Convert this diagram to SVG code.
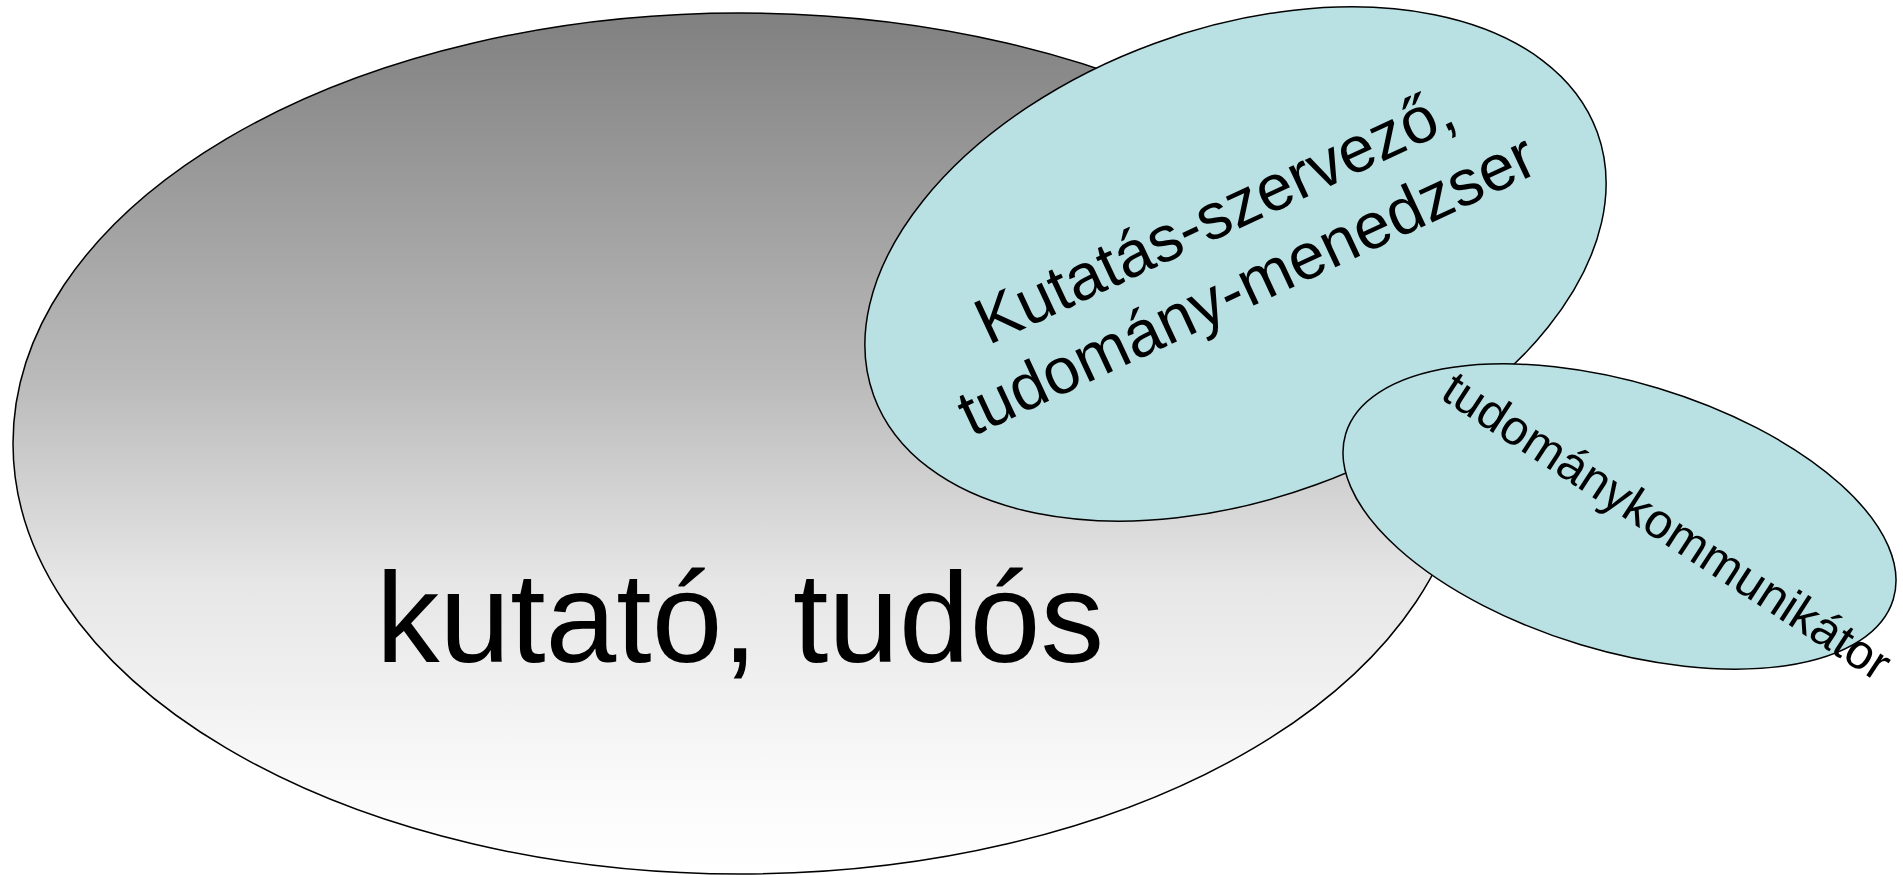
<svg xmlns="http://www.w3.org/2000/svg" width="1903" height="875" viewBox="0 0 1903 875">
<style>
.shape{stroke:#000;stroke-width:1.5}
.blue{fill:#b9e0e3}
.lbl{font-family:"Liberation Sans",Arial,sans-serif;fill:#000}
</style>
<defs>
<linearGradient id="g" x1="0" y1="0" x2="0" y2="1">
<stop offset="0" stop-color="#808080"/>
<stop offset="0.43" stop-color="#bbbbbb"/>
<stop offset="0.66" stop-color="#e6e6e6"/>
<stop offset="0.9" stop-color="#fafafa"/>
<stop offset="1" stop-color="#ffffff"/>
</linearGradient>
</defs>
<rect width="1903" height="875" fill="#fff"/>
<g id="kutato">
<ellipse class="shape" cx="740" cy="443.5" rx="727" ry="430.5" fill="url(#g)"/>
<text class="lbl" x="376" y="662" font-size="128" textLength="728" lengthAdjust="spacingAndGlyphs">kutató, tudós</text>
</g>
<g id="szervezo">
<ellipse class="shape blue" cx="0" cy="0" rx="385" ry="235" transform="translate(1235.5 264) rotate(-20)"/>
<g transform="translate(1240 270) rotate(-25)">
<text class="lbl" x="0" y="-38" font-size="65" text-anchor="middle">Kutatás-szervező,</text>
<text class="lbl" x="0" y="38" font-size="65" text-anchor="middle">tudomány-menedzser</text>
</g>
</g>
<g id="kommunikator">
<ellipse class="shape blue" cx="0" cy="0" rx="286" ry="134" transform="translate(1619.5 516.5) rotate(16.8)"/>
<text class="lbl" x="0" y="0" font-size="49" text-anchor="middle" transform="translate(1658 540) rotate(33)">tudománykommunikátor</text>
</g>
<g id="connectors"/>
</svg>
